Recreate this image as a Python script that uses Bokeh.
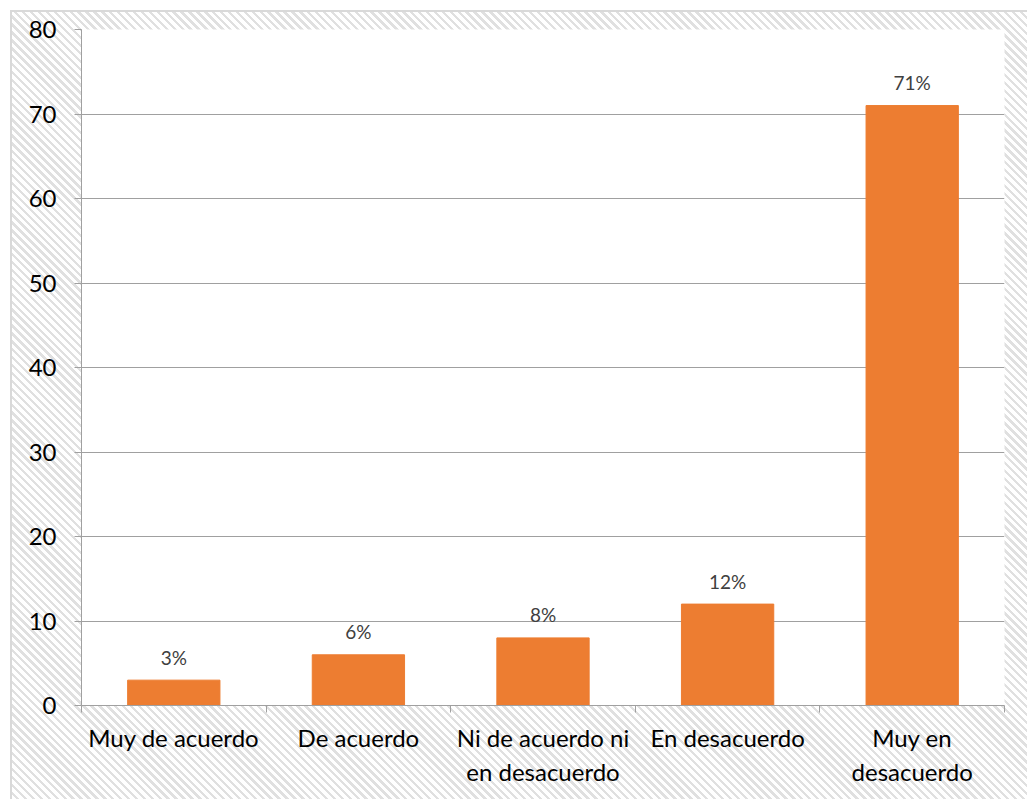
from bokeh.plotting import figure
from bokeh.models import FixedTicker, Range1d, ColumnDataSource
from bokeh.core.properties import value
from bokeh.embed import file_html
from bokeh.resources import INLINE

categories = ["Muy de acuerdo", "De acuerdo", "Ni de acuerdo ni\nen desacuerdo", "En desacuerdo", "Muy en\ndesacuerdo"]
values = [3, 6, 8, 12, 71]
labels = ["3%", "6%", "8%", "12%", "71%"]
y_ticks = [0, 10, 20, 30, 40, 50, 60, 70, 80]

xs = [i + 0.5 for i in range(len(categories))]
src = ColumnDataSource(dict(x=xs, top=values, lab=labels))

p = figure(width=1017, height=789, output_backend="svg", toolbar_location=None,
           x_range=Range1d(0, len(categories)), y_range=Range1d(0, 80),
           min_border_left=69, min_border_right=25, min_border_top=17, min_border_bottom=96)
p.border_fill_color = None
p.background_fill_color = "white"
p.outline_line_color = None
p.styles = {
    "background": "repeating-linear-gradient(45deg, #ffffff 0px, #ffffff 3.2px, #e0e0e0 3.2px, #e0e0e0 5.6px)",
    "border-left": "2px solid #d9d9d9",
    "border-top": "2px solid #d9d9d9",
    "margin-left": "10px",
    "margin-top": "10px",
}

p.vbar(x="x", top="top", width=0.5, bottom=0, source=src, color="#ED7D31")
p.text(x="x", y="top", text="lab", source=src, text_align="center", text_baseline="alphabetic",
       y_offset=-23, text_font=value("Lato"), text_font_size="19px", text_color="#404040")

# y axis
p.yaxis.ticker = FixedTicker(ticks=y_ticks)
p.yaxis.axis_line_color = "#a0a0a0"
p.yaxis.major_tick_line_color = "#a0a0a0"
p.yaxis.major_tick_out = 7
p.yaxis.major_tick_in = 0
p.yaxis.minor_tick_line_color = None
p.yaxis.major_label_text_font = "Lato"
p.yaxis.major_label_text_font_size = "24px"
p.yaxis.major_label_text_color = "black"
p.yaxis.major_label_standoff = 18

# x axis
p.xaxis.ticker = FixedTicker(ticks=xs, minor_ticks=list(range(len(categories) + 1)))
p.xaxis.major_label_overrides = {x: c for x, c in zip(xs, categories)}
p.xaxis.axis_line_color = "#a0a0a0"
p.xaxis.major_tick_line_color = None
p.xaxis.minor_tick_line_color = "#a0a0a0"
p.xaxis.minor_tick_out = 7
p.xaxis.minor_tick_in = 0
p.xaxis.major_label_text_font = "Lato"
p.xaxis.major_label_text_font_size = "24px"
p.xaxis.major_label_text_color = "black"
p.xaxis.major_label_standoff = 10

p.xgrid.grid_line_color = None
p.ygrid.ticker = FixedTicker(ticks=y_ticks)
p.ygrid.grid_line_color = "#a0a0a0"

open("out.html", "w").write(file_html(p, INLINE))
